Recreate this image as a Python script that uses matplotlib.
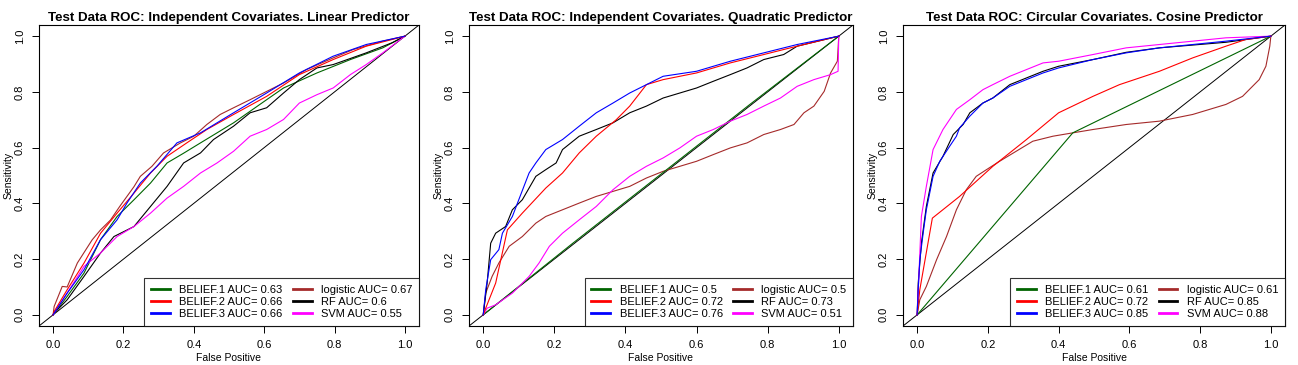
import matplotlib
matplotlib.use("Agg")
import matplotlib.pyplot as plt

plt.rcParams['font.family'] = ['Liberation Sans', 'DejaVu Sans']

titles = ["Test Data ROC: Independent Covariates. Linear Predictor",
          "Test Data ROC: Independent Covariates. Quadratic Predictor",
          "Test Data ROC: Circular Covariates. Cosine Predictor"]
model_names = ["BELIEF.1", "BELIEF.2", "BELIEF.3", "logistic", "RF", "SVM"]
model_colors = ["#006400", "#FF0000", "#0000FF", "#A52A2A", "#000000", "#FF00FF"]
auc_p1 = ["0.63", "0.66", "0.66", "0.67", "0.6", "0.55"]
auc_p2 = ["0.5", "0.72", "0.76", "0.5", "0.73", "0.51"]
auc_p3 = ["0.61", "0.72", "0.85", "0.61", "0.85", "0.88"]
ticks = [0.0, 0.2, 0.4, 0.6, 0.8, 1.0]
tick_labels = ["0.0", "0.2", "0.4", "0.6", "0.8", "1.0"]

# ---------------- Panel 1: linear predictor ----------------
p1_b1_x = [0, 0.04, 0.088, 0.135, 0.182, 0.23, 0.277, 0.324, 0.371, 0.419, 0.513, 0.607, 0.655, 0.75, 0.845, 0.937, 1]
p1_b1_y = [0, 0.066, 0.15, 0.27, 0.353, 0.413, 0.473, 0.545, 0.58, 0.617, 0.689, 0.772, 0.814, 0.868, 0.916, 0.958, 1]
p1_b2_x = [0, 0.003, 0.04, 0.088, 0.135, 0.182, 0.23, 0.277, 0.324, 0.38, 0.437, 0.513, 0.607, 0.70, 0.796, 0.89, 1]
p1_b2_y = [0, 0.012, 0.09, 0.186, 0.293, 0.365, 0.437, 0.509, 0.569, 0.617, 0.665, 0.719, 0.784, 0.862, 0.916, 0.964, 1]
p1_b3_x = [0, 0.04, 0.088, 0.135, 0.182, 0.21, 0.248, 0.295, 0.352, 0.419, 0.513, 0.607, 0.70, 0.796, 0.89, 1]
p1_b3_y = [0, 0.078, 0.162, 0.27, 0.341, 0.401, 0.473, 0.533, 0.617, 0.653, 0.725, 0.796, 0.868, 0.928, 0.97, 1]
p1_lg_x = [0, 0.003, 0.026, 0.04, 0.069, 0.111, 0.135, 0.163, 0.19, 0.23, 0.248, 0.281, 0.314, 0.362, 0.40, 0.437, 0.475, 0.513, 0.56, 0.598, 0.655, 0.72, 0.796, 0.853, 0.937, 1]
p1_lg_y = [0, 0.03, 0.102, 0.10, 0.186, 0.269, 0.305, 0.34, 0.39, 0.46, 0.497, 0.533, 0.581, 0.617, 0.641, 0.683, 0.719, 0.743, 0.772, 0.796, 0.832, 0.88, 0.922, 0.952, 0.982, 1]
p1_rf_x = [0, 0.003, 0.04, 0.088, 0.135, 0.173, 0.23, 0.277, 0.324, 0.371, 0.419, 0.456, 0.513, 0.56, 0.607, 0.655, 0.70, 0.75, 0.796, 0.89, 0.963, 1]
p1_rf_y = [0, 0.006, 0.054, 0.138, 0.222, 0.281, 0.317, 0.389, 0.461, 0.545, 0.581, 0.629, 0.677, 0.725, 0.743, 0.796, 0.844, 0.886, 0.898, 0.94, 0.976, 1]
p1_svm_x = [0, 0.003, 0.04, 0.088, 0.135, 0.182, 0.23, 0.277, 0.324, 0.371, 0.419, 0.466, 0.513, 0.56, 0.607, 0.655, 0.70, 0.75, 0.796, 0.845, 0.89, 0.937, 1]
p1_svm_y = [0, 0.006, 0.078, 0.174, 0.222, 0.281, 0.317, 0.365, 0.419, 0.461, 0.509, 0.545, 0.587, 0.641, 0.665, 0.701, 0.76, 0.79, 0.814, 0.862, 0.898, 0.94, 1]

# ---------------- Panel 2: quadratic predictor ----------------
p2_b1_x = [0, 0.25, 0.5, 0.75, 1]
p2_b1_y = [0, 0.255, 0.505, 0.755, 1]
p2_b2_x = [0, 0.007, 0.035, 0.068, 0.11, 0.176, 0.223, 0.27, 0.318, 0.374, 0.412, 0.459, 0.506, 0.60, 0.695, 0.789, 0.845, 0.883, 1]
p2_b2_y = [0, 0.024, 0.114, 0.305, 0.365, 0.455, 0.509, 0.581, 0.641, 0.70, 0.749, 0.826, 0.844, 0.868, 0.904, 0.934, 0.952, 0.964, 1]
p2_b3_x = [0, 0.007, 0.021, 0.044, 0.054, 0.082, 0.10, 0.129, 0.148, 0.176, 0.223, 0.27, 0.318, 0.365, 0.412, 0.459, 0.506, 0.60, 0.695, 0.789, 0.883, 1]
p2_b3_y = [0, 0.09, 0.198, 0.234, 0.293, 0.353, 0.413, 0.509, 0.545, 0.593, 0.629, 0.677, 0.725, 0.76, 0.796, 0.826, 0.856, 0.874, 0.91, 0.94, 0.97, 1]
p2_lg_x = [0, 0.007, 0.025, 0.044, 0.073, 0.11, 0.148, 0.176, 0.223, 0.27, 0.318, 0.365, 0.412, 0.459, 0.506, 0.553, 0.60, 0.647, 0.695, 0.742, 0.789, 0.836, 0.874, 0.902, 0.93, 0.959, 0.977, 0.996, 1]
p2_lg_y = [0, 0.078, 0.138, 0.186, 0.246, 0.281, 0.329, 0.353, 0.377, 0.401, 0.425, 0.443, 0.461, 0.491, 0.515, 0.533, 0.551, 0.575, 0.599, 0.617, 0.647, 0.665, 0.683, 0.725, 0.749, 0.802, 0.868, 0.91, 1]
p2_rf_x = [0, 0.011, 0.021, 0.035, 0.063, 0.082, 0.11, 0.148, 0.176, 0.205, 0.223, 0.27, 0.318, 0.365, 0.412, 0.459, 0.506, 0.553, 0.60, 0.647, 0.695, 0.742, 0.789, 0.845, 0.883, 1]
p2_rf_y = [0, 0.114, 0.257, 0.293, 0.317, 0.377, 0.413, 0.497, 0.521, 0.545, 0.593, 0.641, 0.665, 0.689, 0.725, 0.749, 0.778, 0.796, 0.814, 0.838, 0.862, 0.886, 0.916, 0.934, 0.964, 1]
p2_svm_x = [0, 0.011, 0.035, 0.082, 0.129, 0.157, 0.186, 0.223, 0.27, 0.318, 0.365, 0.412, 0.459, 0.506, 0.553, 0.60, 0.647, 0.695, 0.742, 0.789, 0.836, 0.883, 0.93, 0.977, 0.998, 1]
p2_svm_y = [0, 0.024, 0.036, 0.078, 0.138, 0.186, 0.246, 0.293, 0.341, 0.389, 0.449, 0.497, 0.533, 0.563, 0.599, 0.641, 0.665, 0.695, 0.719, 0.749, 0.778, 0.82, 0.844, 0.862, 0.874, 1]

# ---------------- Panel 3: cosine predictor ----------------
p3_b1_x = [0, 0.44, 1]
p3_b1_y = [0, 0.653, 1]
p3_b2_x = [0, 0.0075, 0.043, 0.12, 0.214, 0.309, 0.40, 0.497, 0.572, 0.685, 0.779, 0.873, 0.929, 1]
p3_b2_y = [0, 0.09, 0.347, 0.425, 0.533, 0.629, 0.725, 0.784, 0.826, 0.874, 0.922, 0.964, 0.988, 1]
p3_b3_x = [0, 0.003, 0.0075, 0.017, 0.026, 0.045, 0.064, 0.092, 0.111, 0.12, 0.149, 0.186, 0.214, 0.262, 0.309, 0.356, 0.40, 0.497, 0.591, 0.685, 0.779, 0.873, 1]
p3_b3_y = [0, 0.09, 0.198, 0.293, 0.377, 0.497, 0.551, 0.605, 0.641, 0.671, 0.713, 0.76, 0.778, 0.82, 0.844, 0.868, 0.886, 0.916, 0.94, 0.958, 0.97, 0.982, 1]
p3_lg_x = [0, 0.0075, 0.026, 0.055, 0.083, 0.111, 0.139, 0.167, 0.196, 0.233, 0.28, 0.327, 0.384, 0.44, 0.497, 0.591, 0.685, 0.779, 0.826, 0.873, 0.92, 0.967, 0.986, 0.997, 1]
p3_lg_y = [0, 0.054, 0.102, 0.198, 0.281, 0.377, 0.449, 0.497, 0.521, 0.551, 0.587, 0.623, 0.641, 0.653, 0.665, 0.683, 0.695, 0.719, 0.737, 0.755, 0.784, 0.844, 0.892, 0.964, 1]
p3_rf_x = [0, 0.003, 0.012, 0.026, 0.045, 0.073, 0.102, 0.13, 0.149, 0.186, 0.214, 0.262, 0.309, 0.356, 0.40, 0.497, 0.591, 0.685, 0.873, 1]
p3_rf_y = [0, 0.114, 0.257, 0.389, 0.509, 0.569, 0.647, 0.683, 0.725, 0.76, 0.778, 0.826, 0.85, 0.874, 0.892, 0.916, 0.942, 0.958, 0.978, 1]
p3_svm_x = [0, 0.006, 0.012, 0.026, 0.045, 0.073, 0.111, 0.149, 0.186, 0.214, 0.262, 0.309, 0.356, 0.40, 0.497, 0.591, 0.685, 0.779, 0.873, 1]
p3_svm_y = [0, 0.174, 0.353, 0.461, 0.593, 0.665, 0.737, 0.772, 0.808, 0.826, 0.856, 0.88, 0.904, 0.91, 0.934, 0.958, 0.97, 0.982, 0.994, 1]

panels = [
    [(p1_b1_x, p1_b1_y), (p1_b2_x, p1_b2_y), (p1_b3_x, p1_b3_y), (p1_lg_x, p1_lg_y), (p1_rf_x, p1_rf_y), (p1_svm_x, p1_svm_y)],
    [(p2_b1_x, p2_b1_y), (p2_b2_x, p2_b2_y), (p2_b3_x, p2_b3_y), (p2_lg_x, p2_lg_y), (p2_rf_x, p2_rf_y), (p2_svm_x, p2_svm_y)],
    [(p3_b1_x, p3_b1_y), (p3_b2_x, p3_b2_y), (p3_b3_x, p3_b3_y), (p3_lg_x, p3_lg_y), (p3_rf_x, p3_rf_y), (p3_svm_x, p3_svm_y)],
]
aucs = [auc_p1, auc_p2, auc_p3]
draw_order = [3, 0, 4, 5, 1, 2]

fig = plt.figure(figsize=(12.98, 3.65), dpi=100)
rects = [(39, 380), (469, 384), (903, 382)]
W, H = 1298.0, 365.0
for k in range(3):
    left, width = rects[k]
    ax = fig.add_axes([left / W, 39 / H, width / W, 301 / H])
    ax.set_xlim(-0.04, 1.04)
    ax.set_ylim(-0.04, 1.04)
    ax.plot([-0.04, 1.04], [-0.04, 1.04], color="black", lw=0.7, zorder=1)
    for i in draw_order:
        xs, ys = panels[k][i]
        ax.plot(xs, ys, color=model_colors[i], lw=0.8, zorder=2)
    handles = []
    for i in range(6):
        h, = ax.plot([], [], color=model_colors[i], lw=2,
                     label=f"{model_names[i]} AUC= {aucs[k][i]}")
        handles.append(h)
    leg = ax.legend(handles=handles, loc="lower right", ncol=2, fontsize=8.0,
                    frameon=True, fancybox=False, borderaxespad=0,
                    handlelength=1.7, handletextpad=0.85, columnspacing=0.9,
                    labelspacing=0.2, borderpad=0.6)
    leg.get_frame().set_edgecolor("black")
    leg.get_frame().set_linewidth(0.8)
    ax.set_xticks(ticks)
    ax.set_xticklabels(tick_labels, fontsize=8)
    ax.set_yticks(ticks)
    ax.set_yticklabels(tick_labels, fontsize=8, rotation=90, va="center")
    ax.tick_params(direction="out", length=5, width=0.7, pad=5)
    ax.set_xlabel("False Positive", fontsize=7.5, labelpad=2.5)
    ax.set_ylabel("Sensitivity", fontsize=7.5, labelpad=1)
    ax.set_title(titles[k], fontsize=9.6, fontweight="bold", pad=3)
    for s in ax.spines.values():
        s.set_linewidth(0.8)

fig.savefig("out.png", dpi=100)
